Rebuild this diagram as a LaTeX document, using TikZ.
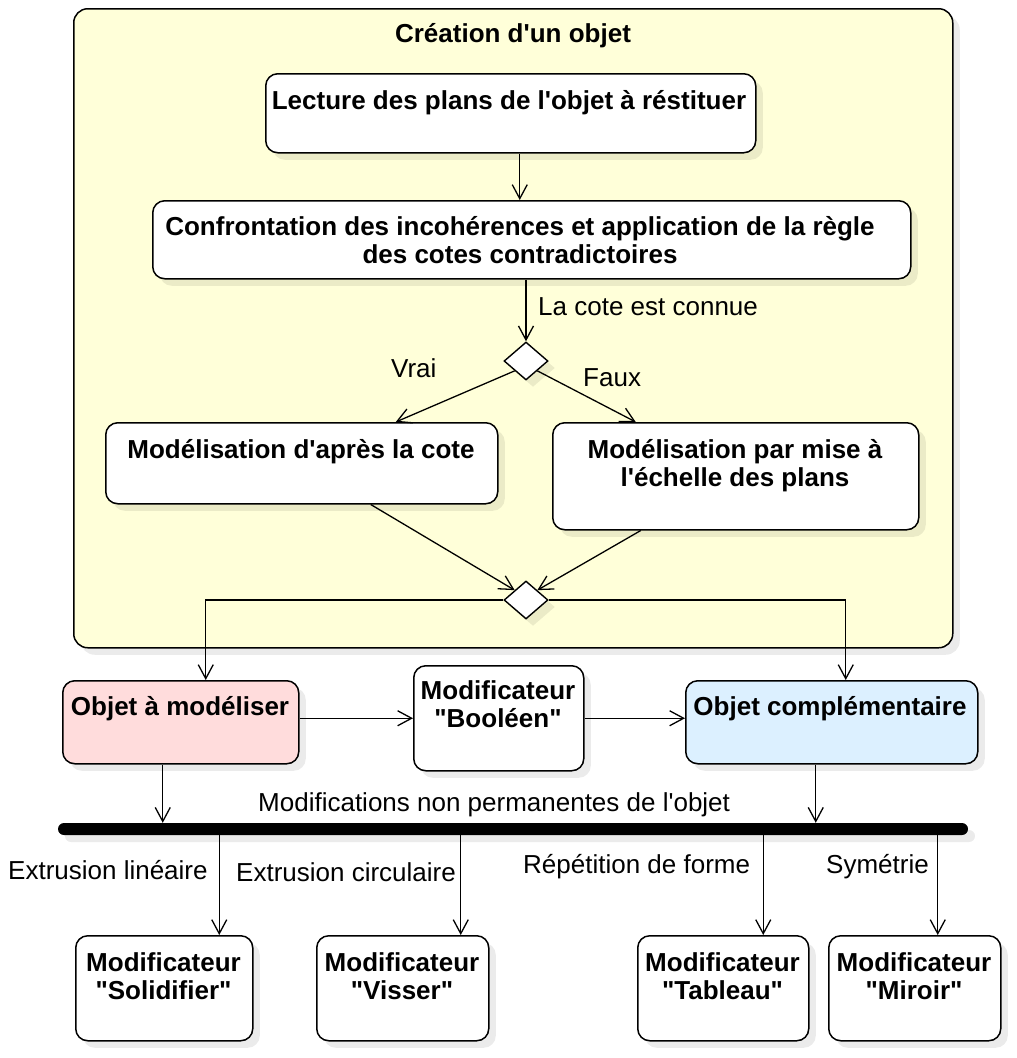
\documentclass[tikz,border=0pt]{standalone}
\usepackage{fontspec}
\setmainfont{Liberation Sans}[Ligatures=TeXOff]
\usetikzlibrary{arrows.meta,shapes.geometric,shadows,calc}
\definecolor{frameyellow}{HTML}{FFFFD9}
\definecolor{pinkfill}{HTML}{FFDCDC}
\definecolor{bluefill}{HTML}{DCF0FF}
\newcommand\tst{\rule{0pt}{21pt}}
\begin{document}
\begin{tikzpicture}[x=1pt,y=-1pt,
 shad/.style={drop shadow={shadow xshift=7pt,shadow yshift=-7pt,fill=black,opacity=0.08}},
 box/.style={draw=black,line width=1.5pt,rounded corners=12pt,fill=white,shad,inner sep=0pt,anchor=north west},
 txt/.style={font=\bfseries\fontsize{26}{28}\selectfont,align=center,inner sep=0pt,anchor=north},
 lbl/.style={font=\fontsize{26}{28}\selectfont,inner sep=0pt,anchor=base west},
 arr/.style={line width=1.3pt,-{Straight Barb[length=14pt,width=15pt]}},
 dec/.style={diamond,draw=black,line width=1.4pt,fill=white,shad,inner sep=0pt,minimum width=44pt,minimum height=38pt,aspect=1.15},
]
\useasboundingbox (0,0) rectangle (1017,1058);
% frame
\node[box,fill=frameyellow,rounded corners=14pt,minimum width=879pt,minimum height=639pt] (frame) at (73,8) {};
\node[txt] (title) at (513,21) {\tst Création d'un objet};
% boxes
\node[box,minimum width=490pt,minimum height=79pt] (b1) at (265,73) {};
\node[txt] (b1t) at (509,88) {\tst Lecture des plans de l'objet à réstituer};
\node[box,minimum width=758pt,minimum height=78pt] (b2) at (152,200) {};
\node[txt] (b2t) at (520,214) {\tst Confrontation des incohérences et application de la règle\\des cotes contradictoires};
\node[dec] (d1) at (526,361) {};
\node[box,minimum width=392pt,minimum height=81pt] (b3) at (105,422) {};
\node[txt] (b3t) at (301,437) {\tst Modélisation d'après la cote};
\node[box,minimum width=366pt,minimum height=107pt] (b4) at (552,422) {};
\node[txt] (b4t) at (735,437) {\tst Modélisation par mise à\\l'échelle des plans};
\node[dec] (d2) at (526,600) {};
\node[box,fill=pinkfill,minimum width=236pt,minimum height=83pt] (b5) at (62,680) {};
\node[txt] (b5t) at (180,694) {\tst Objet à modéliser};
\node[box,minimum width=170pt,minimum height=105pt] (b6) at (413,665) {};
\node[txt] (b6t) at (498,678) {\tst Modificateur\\"Booléen"};
\node[box,fill=bluefill,minimum width=292pt,minimum height=83pt] (b7) at (685,680) {};
\node[txt] (b7t) at (830,694) {\tst Objet complémentaire};
\node[fill=black,rounded corners=6pt,minimum width=910pt,minimum height=12pt,inner sep=0pt,shad] (bar) at (513,829) {};
\node[box,minimum width=177pt,minimum height=105pt] (s1) at (75,935) {};
\node[txt] (s1t) at (163.5,950) {\tst Modificateur\\"Solidifier"};
\node[box,minimum width=172pt,minimum height=105pt] (s2) at (316,935) {};
\node[txt] (s2t) at (402,950) {\tst Modificateur\\"Visser"};
\node[box,minimum width=171pt,minimum height=105pt] (s3) at (637,935) {};
\node[txt] (s3t) at (722.5,950) {\tst Modificateur\\"Tableau"};
\node[box,minimum width=172pt,minimum height=105pt] (s4) at (828,935) {};
\node[txt] (s4t) at (914,950) {\tst Modificateur\\"Miroir"};
% labels
\node[lbl] (l1) at (538,315) {La cote est connue};
\node[lbl] (l2) at (391,377) {Vrai};
\node[lbl] (l3) at (583,386) {Faux};
\node[lbl] (l4) at (258,811) {Modifications non permanentes de l'objet};
\node[lbl] (l5) at (8,879) {Extrusion linéaire};
\node[lbl] (l6) at (236,881) {Extrusion circulaire};
\node[lbl] (l7) at (523,873) {Répétition de forme};
\node[lbl] (l8) at (826,873) {Symétrie};
% connectors
\coordinate (c1) at ([xshift=9pt]b1.south);
\draw[arr] (c1) -- (c1 |- b2.north);
\draw[arr] (b2.south -| d1.north) -- (d1.north);
\draw[arr] (d1.south west) -- ([xshift=94pt]b3.north);
\draw[arr] (d1.south east) -- ([xshift=-100pt]b4.north);
\draw[arr] ([xshift=69pt]b3.south) -- (d2.north west);
\draw[arr] ([xshift=-95pt]b4.south) -- (d2.north east);
\draw[arr] (d2.west) -| ([xshift=25pt]b5.north);
\draw[arr] (d2.east) -| ([xshift=14pt]b7.north);
\draw[arr] (b6.west -| b5.east) -- (b6.west);
\draw[arr] (b6.east) -- (b6.east -| b7.west);
\coordinate (c5) at ([xshift=-18pt]b5.south);
\draw[arr] (c5) -- (c5 |- bar.north);
\coordinate (c7) at ([xshift=-16pt]b7.south);
\draw[arr] (c7) -- (c7 |- bar.north);
\coordinate (t1) at ([xshift=55pt]s1.north);
\draw[arr] (t1 |- bar.south) -- (t1);
\coordinate (t2) at ([xshift=58pt]s2.north);
\draw[arr] (t2 |- bar.south) -- (t2);
\coordinate (t3) at ([xshift=40pt]s3.north);
\draw[arr] (t3 |- bar.south) -- (t3);
\coordinate (t4) at ([xshift=23pt]s4.north);
\draw[arr] (t4 |- bar.south) -- (t4);
\end{tikzpicture}
\end{document}
